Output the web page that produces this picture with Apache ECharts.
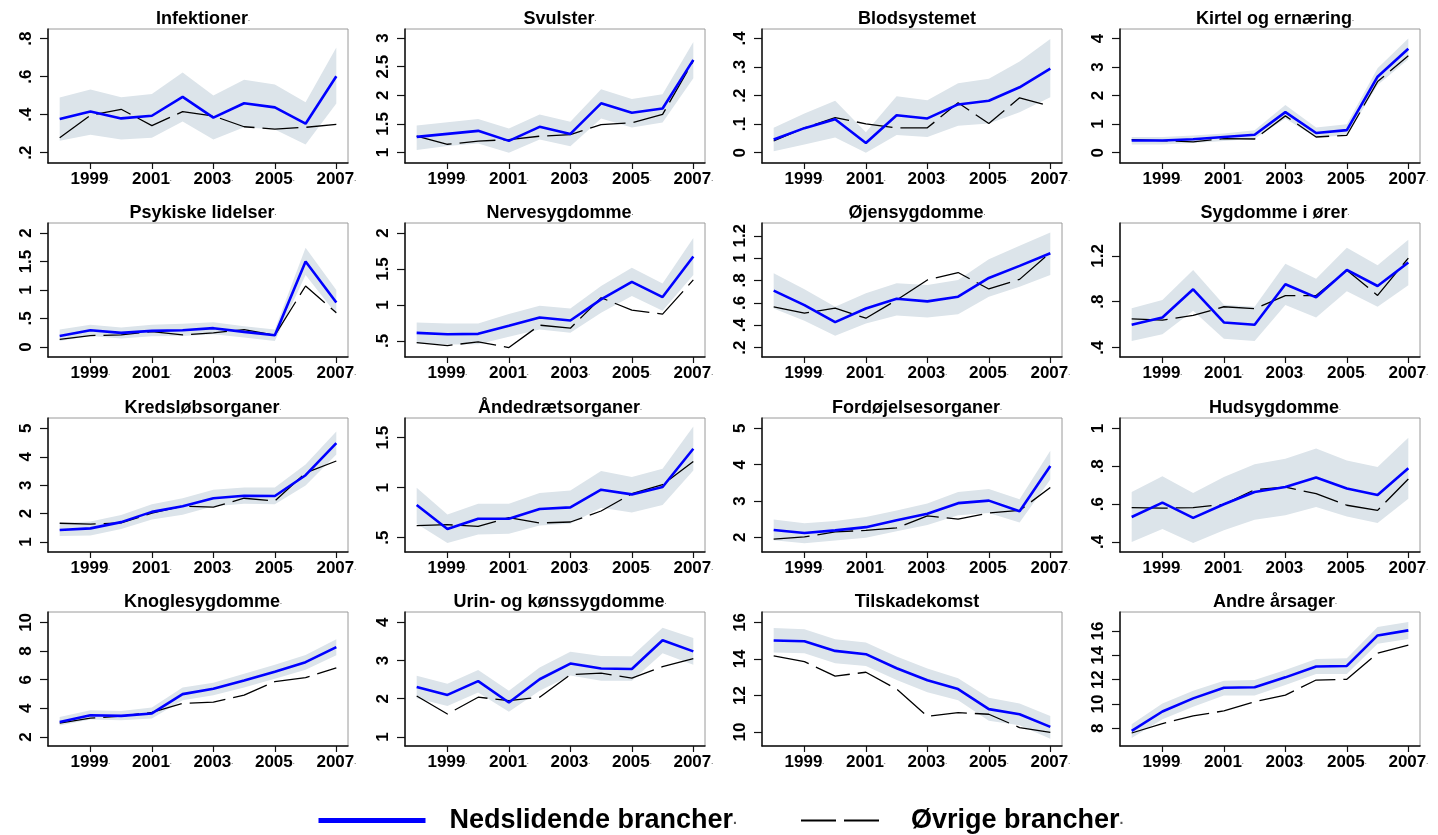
<!DOCTYPE html>
<html><head><meta charset="utf-8">
<script src="https://cdn.jsdelivr.net/npm/echarts@6/dist/echarts.min.js"></script>
<style>html,body{margin:0;padding:0;background:#fff}#c{width:1438px;height:835px}</style>
</head><body><div id="c"></div>
<script>
const years = [1998,1999,2000,2001,2002,2003,2004,2005,2006,2007];
const xTickLabels = [1999,2001,2003,2005,2007];
const titles = ['Infektioner.','Svulster.','Blodsystemet','Kirtel og ernæring.','Psykiske lidelser.','Nervesygdomme.','Øjensygdomme.','Sygdomme i ører.','Kredsløbsorganer.','Åndedrætsorganer.','Fordøjelsesorganer.','Hudsygdomme.','Knoglesygdomme.','Urin- og kønssygdomme.','Tilskadekomst','Andre årsager.'];
const seriesNames = ['Nedslidende brancher','Øvrige brancher'];

const nedslidende = [
  [0.377,0.416,0.380,0.394,0.493,0.384,0.460,0.438,0.352,0.602],
  [1.275,1.327,1.38,1.205,1.45,1.327,1.86,1.696,1.77,2.62],
  [0.046,0.086,0.117,0.034,0.131,0.12,0.169,0.182,0.229,0.294],
  [0.43,0.43,0.47,0.55,0.63,1.42,0.69,0.79,2.66,3.64],
  [0.194,0.294,0.247,0.282,0.294,0.33,0.265,0.206,1.5,0.782],
  [0.612,0.593,0.598,0.71,0.826,0.784,1.078,1.32,1.11,1.674],
  [0.709,0.58,0.428,0.55,0.637,0.613,0.655,0.823,0.931,1.044],
  [0.599,0.663,0.908,0.619,0.599,0.952,0.838,1.077,0.937,1.142],
  [1.42,1.48,1.70,2.06,2.26,2.54,2.63,2.62,3.35,4.48],
  [0.827,0.587,0.69,0.69,0.787,0.803,0.98,0.933,1.007,1.39],
  [2.20,2.12,2.19,2.28,2.47,2.65,2.94,3.01,2.72,3.96],
  [0.532,0.608,0.527,0.599,0.664,0.69,0.741,0.683,0.648,0.789],
  [3.05,3.52,3.47,3.64,4.99,5.37,5.95,6.56,7.22,8.27],
  [2.31,2.10,2.46,1.90,2.51,2.92,2.79,2.78,3.53,3.24],
  [15.01,14.97,14.44,14.26,13.49,12.83,12.35,11.25,10.97,10.28],
  [7.78,9.38,10.46,11.34,11.37,12.19,13.08,13.13,15.64,16.06]
];
const ovrige = [
  [0.278,0.396,0.428,0.342,0.416,0.393,0.336,0.324,0.333,0.349],
  [1.29,1.146,1.2,1.228,1.287,1.316,1.49,1.52,1.667,2.60],
  [0.041,0.087,0.123,0.101,0.087,0.087,0.175,0.102,0.192,0.163],
  [0.46,0.42,0.38,0.49,0.48,1.29,0.55,0.61,2.49,3.39],
  [0.135,0.2,0.212,0.27,0.212,0.247,0.306,0.206,1.07,0.6],
  [0.477,0.435,0.486,0.407,0.719,0.677,1.1,0.929,0.873,1.348],
  [0.565,0.508,0.553,0.463,0.625,0.805,0.871,0.724,0.81,1.05],
  [0.651,0.639,0.68,0.756,0.739,0.853,0.853,1.074,0.855,1.18],
  [1.66,1.63,1.67,2.02,2.26,2.23,2.54,2.44,3.43,3.85],
  [0.62,0.63,0.613,0.70,0.647,0.657,0.767,0.94,1.03,1.263],
  [1.95,2.01,2.15,2.19,2.26,2.59,2.50,2.67,2.74,3.37],
  [0.581,0.579,0.581,0.599,0.676,0.69,0.655,0.594,0.567,0.733],
  [2.96,3.31,3.45,3.71,4.34,4.43,4.92,5.86,6.14,6.82],
  [2.07,1.60,2.04,1.95,2.04,2.63,2.67,2.54,2.84,3.05],
  [14.17,13.85,13.06,13.27,12.35,10.86,11.06,10.97,10.24,9.98],
  [7.61,8.39,9.02,9.43,10.18,10.73,11.97,12.03,14.18,14.84]
];
const ciLower = [
  [0.262,0.294,0.269,0.278,0.363,0.269,0.334,0.322,0.243,0.458],
  [1.047,1.117,1.158,1.0,1.228,1.111,1.596,1.44,1.526,2.298],
  [0.005,0.029,0.053,0.0,0.062,0.055,0.094,0.102,0.142,0.194],
  [0.29,0.29,0.34,0.41,0.49,1.2,0.53,0.61,2.37,3.27],
  [0.106,0.194,0.147,0.188,0.194,0.224,0.165,0.106,1.265,0.576],
  [0.463,0.449,0.454,0.556,0.659,0.612,0.891,1.124,0.919,1.418],
  [0.55,0.44,0.305,0.416,0.487,0.469,0.499,0.655,0.745,0.85],
  [0.458,0.517,0.721,0.476,0.458,0.771,0.663,0.891,0.756,0.943],
  [1.21,1.23,1.46,1.79,1.96,2.26,2.35,2.33,2.99,4.08],
  [0.64,0.447,0.533,0.54,0.623,0.64,0.80,0.753,0.827,1.173],
  [1.92,1.84,1.91,1.99,2.17,2.34,2.61,2.67,2.41,3.59],
  [0.40,0.469,0.395,0.462,0.518,0.541,0.585,0.535,0.50,0.629],
  [2.80,3.22,3.17,3.29,4.57,4.92,5.46,6.07,6.70,7.71],
  [2.01,1.81,2.16,1.66,2.21,2.61,2.47,2.47,3.19,2.89],
  [14.35,14.31,13.76,13.61,12.84,12.18,11.74,10.61,10.37,9.63],
  [7.20,8.74,9.77,10.70,10.70,11.56,12.47,12.47,14.95,15.34]
];
const ciUpper = [
  [0.49,0.532,0.491,0.509,0.622,0.50,0.583,0.558,0.465,0.754],
  [1.474,1.532,1.585,1.42,1.667,1.538,2.105,1.936,2.018,2.93],
  [0.087,0.137,0.182,0.072,0.198,0.184,0.243,0.259,0.319,0.398],
  [0.55,0.55,0.6,0.67,0.79,1.67,0.88,1.0,2.96,4.0],
  [0.306,0.388,0.341,0.388,0.406,0.435,0.365,0.306,1.741,1.0],
  [0.756,0.742,0.742,0.873,0.99,0.952,1.264,1.516,1.3,1.93],
  [0.865,0.721,0.565,0.685,0.775,0.76,0.805,0.99,1.11,1.23],
  [0.742,0.815,1.077,0.774,0.756,1.13,1.0,1.27,1.118,1.34],
  [1.67,1.72,1.95,2.33,2.54,2.84,2.92,2.92,3.73,4.89],
  [1.0,0.733,0.84,0.84,0.947,0.973,1.167,1.107,1.19,1.613],
  [2.49,2.39,2.45,2.56,2.74,2.93,3.25,3.33,3.05,4.38],
  [0.664,0.747,0.659,0.743,0.81,0.84,0.894,0.831,0.796,0.951],
  [3.40,3.87,3.82,4.06,5.46,5.79,6.42,7.05,7.73,8.83],
  [2.60,2.39,2.75,2.21,2.82,3.23,3.12,3.11,3.86,3.59],
  [15.69,15.63,15.08,14.90,14.13,13.47,12.94,11.87,11.56,10.88],
  [8.33,10.04,11.09,11.92,11.97,12.80,13.71,13.77,16.33,16.74]
];
const yTicks = [
  [0.2,0.4,0.6,0.8],[1,1.5,2,2.5,3],[0,0.1,0.2,0.3,0.4],[0,1,2,3,4],
  [0,0.5,1,1.5,2],[0.5,1,1.5,2],[0.2,0.4,0.6,0.8,1,1.2],[0.4,0.8,1.2],
  [1,2,3,4,5],[0.5,1,1.5],[2,3,4,5],[0.4,0.6,0.8,1],
  [2,4,6,8,10],[1,2,3,4],[10,12,14,16],[8,10,12,14,16]
];
const yRange = [
  [0.145,0.851],[0.819,3.158],[-0.036,0.433],[-0.36,4.33],
  [-0.176,2.176],[0.276,2.14],[0.116,1.314],[0.318,1.486],
  [0.648,5.364],[0.357,1.697],[1.596,5.284],[0.347,1.055],
  [1.368,10.725],[0.763,4.27],[9.23,16.57],[6.54,17.57]
];
const xRange = [1997.62, 2007.38];

const FONT = 'Liberation Sans, Arial, Helvetica, sans-serif';
const colLeft = [48, 405, 762, 1120];
const rowTop = [29, 223, 418, 612];
const PW = 300, PH = 134;
const bandColor = '#dce4ea';
const blue = '#0000ff';

function fmtY(v) {
  let s = String(+v.toFixed(3));
  if (s.startsWith('0.')) s = s.slice(1);
  if (s.startsWith('-0.')) s = '-' + s.slice(2);
  return s;
}
function withDot(t) {
  return t.endsWith('.') ? t.slice(0, -1) + '{d|.}' : t;
}

const grids = [], xAxes = [], yAxes = [], series = [], titleArr = [];
for (let i = 0; i < 16; i++) {
  const r = Math.floor(i / 4), c = i % 4;
  grids.push({left: colLeft[c], top: rowTop[r], width: PW, height: PH,
    show: true, borderColor: '#9a9a9a', borderWidth: 1, backgroundColor: 'transparent', containLabel: false});
  xAxes.push({type: 'value', gridIndex: i, min: xRange[0], max: xRange[1],
    axisLine: {show: true, onZero: false, lineStyle: {color: '#111', width: 1.5}},
    axisTick: {show: true, length: 6, customValues: xTickLabels, lineStyle: {color: '#111', width: 1.2}},
    splitLine: {show: false},
    axisLabel: {customValues: xTickLabels, margin: 8, fontFamily: FONT, fontWeight: 'bold', fontSize: 17, color: '#000',
      formatter: v => v + '{d|.}',
      rich: {d: {fontSize: 7, color: '#777', fontFamily: FONT}}}
  });
  yAxes.push({type: 'value', gridIndex: i, min: yRange[i][0], max: yRange[i][1],
    axisLine: {show: true, onZero: false, lineStyle: {color: '#111', width: 1.5}},
    axisTick: {show: true, length: 8, customValues: yTicks[i], lineStyle: {color: '#111', width: 1.2}},
    splitLine: {show: false},
    axisLabel: {customValues: yTicks[i], rotate: 90, margin: 13, fontFamily: FONT, fontWeight: 'bold', fontSize: 17, color: '#000',
      formatter: v => fmtY(v)}
  });
  titleArr.push({text: withDot(titles[i]), left: colLeft[c] + PW / 2, top: rowTop[r] - 24, textAlign: 'center',
    textStyle: {fontFamily: FONT, fontWeight: 'bold', fontSize: 18, color: '#000',
      rich: {d: {fontSize: 7, color: '#777', fontFamily: FONT}}}});
  const idx = i;
  series.push({type: 'custom', xAxisIndex: i, yAxisIndex: i, silent: true, z: 1,
    data: years.map((y, k) => [y, ciLower[idx][k], ciUpper[idx][k]]),
    encode: {x: 0, y: [1, 2]},
    renderItem: (params, api) => {
      if (params.dataIndex !== 0) return null;
      const up = years.map((y, k) => api.coord([y, ciUpper[idx][k]]));
      const lo = years.map((y, k) => api.coord([y, ciLower[idx][k]])).reverse();
      return {type: 'polygon', shape: {points: up.concat(lo)}, style: {fill: bandColor}};
    }
  });
  series.push({name: seriesNames[1], type: 'line', xAxisIndex: i, yAxisIndex: i, z: 2,
    data: years.map((y, k) => [y, ovrige[idx][k]]), symbol: 'none', silent: true,
    lineStyle: {color: '#000', width: 1.3, type: [36, 8]}, itemStyle: {color: '#000'}});
  series.push({name: seriesNames[0], type: 'line', xAxisIndex: i, yAxisIndex: i, z: 3,
    data: years.map((y, k) => [y, nedslidende[idx][k]]), symbol: 'none', silent: true,
    lineStyle: {color: blue, width: 2.6}, itemStyle: {color: blue}});
}

const legendText = {fontFamily: FONT, fontWeight: 'bold', fontSize: 27, color: '#000',
  rich: {d: {fontSize: 14, color: '#555', fontFamily: FONT}}};
const option = {
  animation: false,
  backgroundColor: '#fff',
  title: titleArr,
  grid: grids, xAxis: xAxes, yAxis: yAxes, series: series,
  legend: [
    {left: 311, top: 802, itemWidth: 107, itemHeight: 30, selectedMode: false,
     data: [{name: seriesNames[0], lineStyle: {width: 5, color: blue}, itemStyle: {opacity: 0}}],
     formatter: n => n + '{d|.}', textStyle: Object.assign({padding: [0, 0, 0, 19]}, legendText)},
    {left: 795, top: 802, itemWidth: 78, itemHeight: 30, selectedMode: false,
     data: [{name: seriesNames[1], lineStyle: {width: 2, color: '#000', type: [35, 8]}, itemStyle: {opacity: 0}}],
     formatter: n => n + '{d|.}', textStyle: Object.assign({padding: [0, 0, 0, 27]}, legendText)}
  ]
};
const chart = echarts.init(document.getElementById('c'), null, {renderer: 'canvas'});
chart.setOption(option);
</script></body></html>
